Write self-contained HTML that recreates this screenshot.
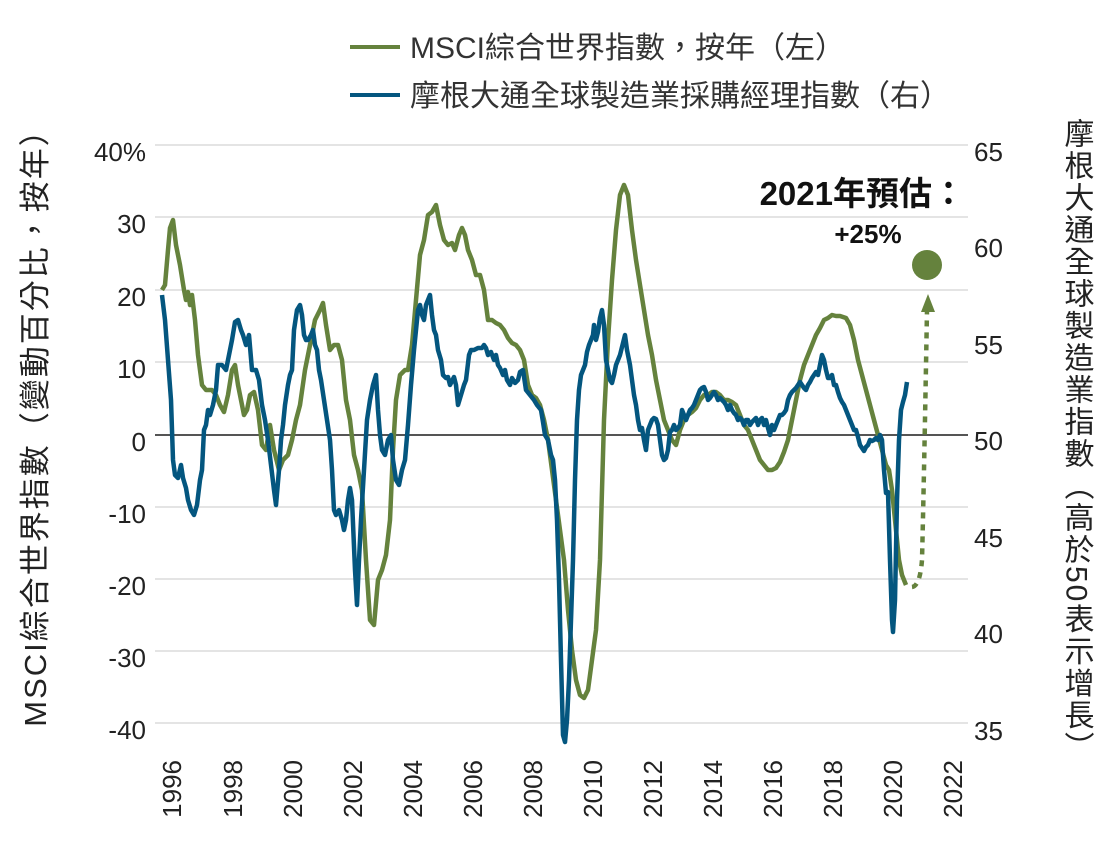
<!DOCTYPE html>
<html><head><meta charset="utf-8"><style>
body{margin:0;background:#fff}
svg{display:block;font-family:"Liberation Sans Narrow","Liberation Sans","Noto Sans CJK TC",sans-serif}
</style></head><body>
<svg width="1101" height="856" viewBox="0 0 1101 856" xmlns="http://www.w3.org/2000/svg">
<g stroke="#dcdcdc" stroke-width="1.5">
<line x1="155" x2="968" y1="145" y2="145"/><line x1="155" x2="968" y1="217" y2="217"/>
<line x1="155" x2="968" y1="290" y2="290"/><line x1="155" x2="968" y1="362" y2="362"/>
<line x1="155" x2="968" y1="507" y2="507"/><line x1="155" x2="968" y1="579" y2="579"/>
<line x1="155" x2="968" y1="651" y2="651"/><line x1="155" x2="968" y1="723" y2="723"/>
</g>
<line x1="155" x2="968" y1="435" y2="435" stroke="#555" stroke-width="2"/>
<g font-size="26" fill="#222" text-anchor="end">
<text x="146" y="161">40%</text><text x="146" y="233">30</text><text x="146" y="306">20</text>
<text x="146" y="378">10</text><text x="146" y="451">0</text><text x="146" y="523">-10</text>
<text x="146" y="595">-20</text><text x="146" y="667">-30</text><text x="146" y="739">-40</text>
</g>
<g font-size="26" fill="#222">
<text x="974" y="161">65</text><text x="974" y="257">60</text><text x="974" y="354">55</text>
<text x="974" y="450">50</text><text x="974" y="547">45</text><text x="974" y="643">40</text><text x="974" y="740">35</text>
</g>
<g font-size="26" fill="#222" text-anchor="end">
<text transform="translate(181,760) rotate(-90)">1996</text>
<text transform="translate(242,760) rotate(-90)">1998</text>
<text transform="translate(302,760) rotate(-90)">2000</text>
<text transform="translate(362,760) rotate(-90)">2002</text>
<text transform="translate(422,760) rotate(-90)">2004</text>
<text transform="translate(482,760) rotate(-90)">2006</text>
<text transform="translate(542,760) rotate(-90)">2008</text>
<text transform="translate(602,760) rotate(-90)">2010</text>
<text transform="translate(662,760) rotate(-90)">2012</text>
<text transform="translate(722,760) rotate(-90)">2014</text>
<text transform="translate(782,760) rotate(-90)">2016</text>
<text transform="translate(842,760) rotate(-90)">2018</text>
<text transform="translate(902,760) rotate(-90)">2020</text>
<text transform="translate(962,760) rotate(-90)">2022</text>
</g>
<text transform="translate(46,420) rotate(-90)" font-size="31" letter-spacing="2" fill="#222" text-anchor="middle">MSCI綜合世界指數（變動百分比，按年）</text>
<text x="1076" y="118" font-size="30" letter-spacing="2" fill="#222" style="writing-mode:vertical-rl">摩根大通全球製造業指數（高於50表示增長）</text>
<line x1="350" x2="400" y1="47" y2="47" stroke="#65823d" stroke-width="4"/>
<text x="410" y="58" font-size="30" fill="#333">MSCI綜合世界指數，按年（左）</text>
<line x1="350" x2="400" y1="95" y2="95" stroke="#04567f" stroke-width="4"/>
<text x="410" y="106" font-size="30" fill="#333">摩根大通全球製造業採購經理指數（右）</text>
<polyline fill="none" stroke="#65823d" stroke-width="4.5" stroke-linejoin="round" points="162,290 165,285 168,250 170,228 173,220 176,245 180,265 184,290 186,300 188,292 190,305 192,295 195,320 198,355 202,385 206,390 212,390 216,395 220,405 224,412 228,395 232,370 235,365 238,385 241,400 244,415 247,410 250,395 254,392 258,410 262,445 266,450 270,425 274,450 279,470 283,460 288,455 292,440 296,420 300,405 305,370 310,345 315,320 320,310 323,303 326,325 330,350 334,345 338,345 342,360 346,400 350,420 354,455 358,470 362,490 366,560 370,620 374,625 378,580 382,570 386,555 390,520 393,450 396,400 400,375 405,370 408,370 412,345 416,300 420,255 424,240 428,215 432,212 436,205 440,225 444,240 448,245 452,243 455,250 459,235 462,228 465,235 468,250 472,260 476,275 480,275 484,290 488,320 492,320 496,323 500,325 504,330 508,338 512,343 516,345 520,350 524,360 528,385 532,395 536,398 540,405 544,420 548,440 552,470 556,500 560,530 564,560 568,610 572,650 576,680 580,695 584,698 588,690 592,660 596,630 600,560 604,420 608,340 612,280 616,230 620,195 624,185 628,195 632,230 636,260 640,285 644,310 648,335 652,355 656,380 660,400 664,420 668,430 672,440 676,445 680,430 684,420 688,415 692,412 696,408 700,400 704,395 708,395 712,392 716,392 720,395 724,400 728,400 732,402 736,405 740,415 744,425 748,430 752,440 756,450 760,460 764,465 768,470 772,470 776,468 780,462 784,452 788,440 792,420 796,400 800,380 804,365 808,355 812,345 816,335 820,328 824,320 828,318 832,315 836,316 840,316 846,318 850,325 854,340 858,360 862,375 866,390 870,405 874,420 878,435 882,450 886,465 889,470 892,490 896,530 899,560 902,575 906,585"/>
<path d="M912,587 Q920,586 922,560 Q924,480 927,310" fill="none" stroke="#65823d" stroke-width="4.5" stroke-dasharray="6,6"/>
<polygon points="928,294 921,312 935,312" fill="#65823d"/>
<circle cx="927" cy="265" r="15" fill="#65823d"/>
<polyline fill="none" stroke="#04567f" stroke-width="4.5" stroke-linejoin="round" points="162,295 165,320 168,360 171,400 173,460 175,475 178,478 181,465 183,478 186,488 188,500 191,510 194,515 197,505 200,480 202,470 204,430 206,425 208,410 210,415 213,405 216,390 218,365 222,365 226,370 229,355 232,340 235,322 238,320 241,330 243,335 246,345 249,335 252,370 256,370 259,380 262,405 265,420 268,440 271,465 274,490 276,505 279,470 281,440 283,425 285,405 288,385 290,375 292,370 294,330 297,310 300,305 302,315 304,335 306,340 308,340 311,335 313,330 315,345 317,350 319,370 321,380 324,400 327,420 330,440 332,470 334,510 336,515 339,510 342,520 344,530 346,520 348,500 350,488 352,500 355,570 357,605 359,560 361,520 364,470 367,420 370,400 373,385 376,375 378,410 380,435 382,450 385,455 388,440 391,435 393,460 396,480 399,485 402,470 405,460 408,425 411,385 414,350 416,330 418,310 420,305 422,315 424,320 426,305 428,300 430,295 432,315 434,330 436,335 438,350 441,360 443,375 446,378 448,377 450,385 454,377 456,385 458,405 461,395 464,385 466,380 469,355 471,350 474,350 478,348 482,348 484,345 486,348 488,355 491,352 494,360 496,355 498,365 500,368 503,375 505,370 507,380 510,385 512,378 515,383 518,380 520,372 523,370 526,390 530,395 534,400 537,405 541,410 543,422 545,435 548,440 551,455 553,460 555,480 557,520 559,580 561,660 563,735 565,742 567,720 569,680 571,620 573,560 575,480 577,420 579,390 581,375 583,370 585,365 587,352 589,345 591,340 593,335 594,325 596,340 598,332 600,318 602,310 604,325 606,360 608,370 610,380 612,383 614,375 616,365 618,360 620,355 623,343 625,335 627,350 630,365 632,380 634,395 636,405 638,420 640,430 642,428 644,440 646,450 648,430 650,425 652,420 654,418 656,419 658,425 660,440 662,455 664,460 666,458 668,450 670,432 672,430 674,425 676,430 678,428 680,425 682,410 684,415 686,420 688,415 690,410 692,408 694,405 696,400 698,395 700,390 702,388 704,387 706,392 708,400 710,398 712,395 714,392 716,395 718,400 720,398 722,400 724,402 726,405 728,410 730,405 732,410 734,413 736,415 738,420 740,418 742,420 744,425 746,420 748,420 750,425 752,422 754,420 756,418 758,425 760,420 762,418 764,425 766,420 768,428 770,435 772,425 774,430 776,425 778,420 780,415 782,415 784,413 786,410 788,400 790,395 792,392 794,390 796,388 798,385 800,382 802,385 804,388 806,390 808,385 810,382 812,378 814,375 816,372 818,375 820,365 822,355 824,360 826,370 828,378 830,378 832,375 834,385 836,385 838,392 840,398 842,402 844,405 846,410 848,415 850,420 852,425 854,430 856,430 858,437 860,445 862,448 864,451 866,447 868,445 870,440 872,441 874,440 876,438 878,440 880,435 882,440 884,470 886,493 888,492 890,560 892,620 893,632 895,600 897,500 899,440 901,410 903,402 905,395 907,382"/>
<text x="965" y="205" font-size="33" font-weight="bold" fill="#111" text-anchor="end" font-family="Liberation Sans, Noto Sans CJK TC, sans-serif">2021年預估：</text>
<text x="868" y="243" font-size="26" font-weight="bold" fill="#111" text-anchor="middle" font-family="Liberation Sans, sans-serif">+25%</text>
</svg>
</body></html>
